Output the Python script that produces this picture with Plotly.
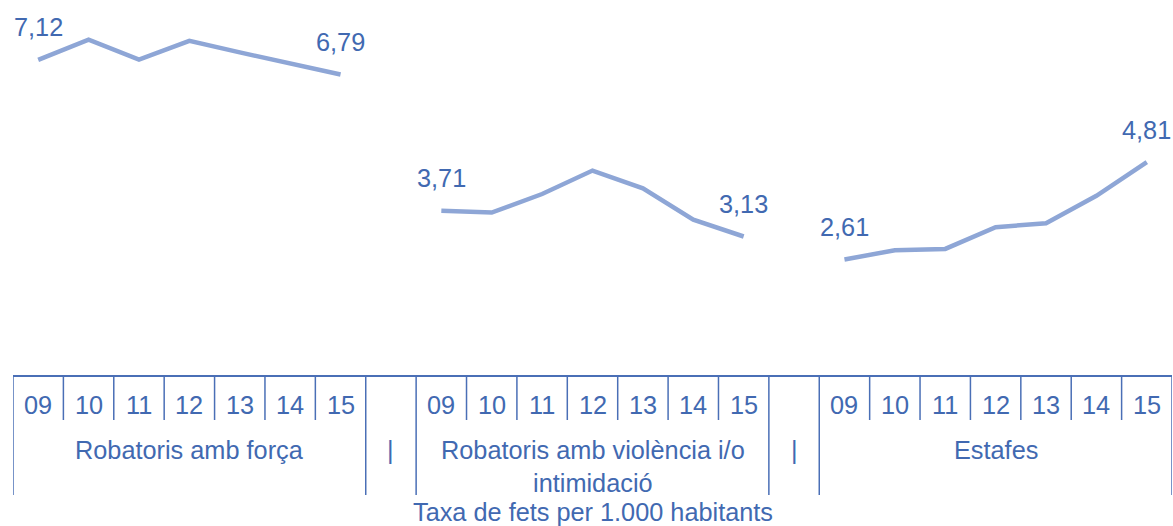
import plotly.graph_objects as go

# ---- data ----
years = ["09", "10", "11", "12", "13", "14", "15"]
group_names = ["Robatoris amb força", "Robatoris amb violència i/o<br>intimidació", "Estafes"]
separator_label = "|"
robatoris_forca = [7.12, 7.58, 7.13, 7.55, 7.29, 7.04, 6.79]
robatoris_violencia = [3.71, 3.67, 4.09, 4.62, 4.22, 3.51, 3.13]
estafes = [2.61, 2.82, 2.85, 3.34, 3.43, 4.05, 4.81]
axis_title = "Taxa de fets per 1.000 habitants"

series = [robatoris_forca, robatoris_violencia, estafes]

# ---- style ----
FONT = "Liberation Sans, Arial, sans-serif"
TEXT_COLOR = "#4169B1"
AXIS_COLOR = "#4A6FB6"
LINE_COLOR = "#8EA6D6"
FS = 25.3
W, H = 1173, 526
M_L, M_R, M_T, M_B = 13, 1, 21, 151
PLOT_H = H - M_T - M_B

n_years = len(years)
step = n_years + 1  # each group followed by a separator slot
n_cats = step * len(series) - 1

fig = go.Figure()
annotations = []
shapes = []

for g, vals in enumerate(series):
    xs = [g * step + i for i in range(n_years)]
    fig.add_trace(go.Scatter(
        x=xs, y=vals, mode="lines",
        line=dict(color=LINE_COLOR, width=4.5),
        hoverinfo="skip", showlegend=False,
    ))
    # data labels on first and last points
    for idx in (0, n_years - 1):
        annotations.append(dict(
            x=xs[idx], y=vals[idx], xref="x", yref="y",
            text=f"{vals[idx]:.2f}".replace(".", ","),
            showarrow=False, yanchor="middle", xanchor="center", yshift=32.5,
            font=dict(family=FONT, size=FS, color=TEXT_COLOR),
        ))
    # year labels
    for i, yl in enumerate(years):
        annotations.append(dict(
            x=xs[i], y=0, xref="x", yref="y", text=yl, showarrow=False,
            yanchor="middle", xanchor="center", yshift=-30,
            font=dict(family=FONT, size=FS, color=TEXT_COLOR),
        ))
    # group label
    center = g * step + (n_years - 1) / 2
    annotations.append(dict(
        x=center, y=0, xref="x", yref="y", text=group_names[g], showarrow=False,
        yanchor="top", xanchor="center", yshift=-58.5,
        font=dict(family=FONT, size=FS, color=TEXT_COLOR),
    ))
    # short dividers between years
    for i in range(n_years - 1):
        xb = g * step + i + 0.5
        shapes.append(dict(type="line", xref="x", yref="paper", x0=xb, x1=xb,
                           y0=0, y1=-45 / PLOT_H,
                           line=dict(color=AXIS_COLOR, width=1.5)))
    # long dividers at group edges
    for xb in (g * step - 0.5, g * step + n_years - 0.5):
        shapes.append(dict(type="line", xref="x", yref="paper", x0=xb, x1=xb,
                           y0=0, y1=-120 / PLOT_H,
                           line=dict(color=AXIS_COLOR, width=1.5)))
    # separator label
    if g < len(series) - 1:
        annotations.append(dict(
            x=g * step + n_years, y=0, xref="x", yref="y", text=separator_label,
            showarrow=False, yanchor="top", xanchor="center", yshift=-58.5,
            font=dict(family=FONT, size=FS, color=TEXT_COLOR),
        ))

annotations.append(dict(
    x=0.5, y=0, xref="paper", yref="y", text=axis_title, showarrow=False,
    yanchor="middle", xanchor="center", yshift=-136.5,
    font=dict(family=FONT, size=FS, color=TEXT_COLOR),
))

fig.update_layout(
    width=W, height=H, autosize=False,
    margin=dict(l=M_L, r=M_R, t=M_T, b=M_B, pad=0),
    paper_bgcolor="white", plot_bgcolor="white",
    xaxis=dict(range=[-0.5, n_cats - 0.5], showticklabels=False, ticks="",
               showgrid=False, zeroline=False, showline=True,
               linecolor=AXIS_COLOR, linewidth=1.5, fixedrange=True),
    yaxis=dict(range=[0, 8], visible=False, fixedrange=True),
    annotations=annotations, shapes=shapes,
    font=dict(family=FONT, size=FS, color=TEXT_COLOR),
)

fig.write_html("out.html", config={"displayModeBar": False},
               post_script="document.body.style.margin='0';")
